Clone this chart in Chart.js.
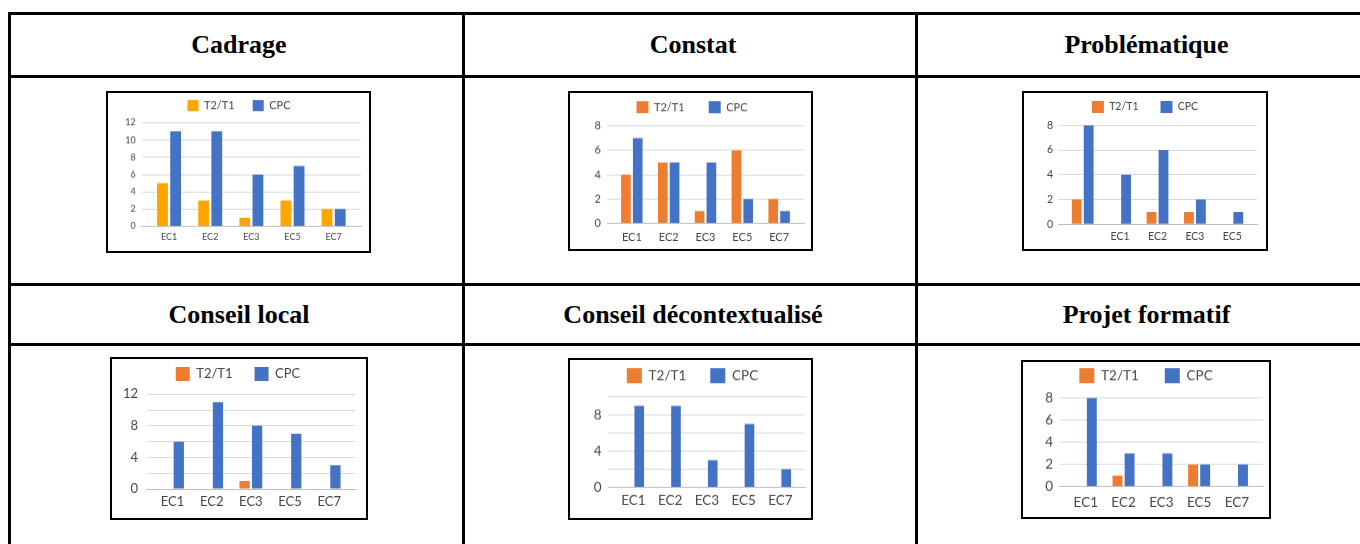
<!DOCTYPE html>
<html>
<head>
<meta charset="utf-8">
<script src="https://cdn.jsdelivr.net/npm/chart.js@4.4.1/dist/chart.umd.min.js"></script>
<style>
    body { margin: 0; background: #fff; width: 1360px; height: 544px; position: relative; overflow: hidden; }
    .hl { position: absolute; left: 8px; right: 0; height: 3px; background: #000; }
    .vl { position: absolute; top: 12px; bottom: 0; width: 3px; background: #000; }
    .head { position: absolute; width: 440px; text-align: center; font: bold 26px "Liberation Serif"; line-height: 30px; color: #000; }
    .frame { position: absolute; border: 2px solid #000; box-sizing: border-box; }
    .wrap { position: absolute; }
</style>
</head>
<body>
<div class="hl" style="top:12px"></div>
<div class="hl" style="top:75px"></div>
<div class="hl" style="top:283px"></div>
<div class="hl" style="top:343px"></div>
<div class="vl" style="left:8px"></div>
<div class="vl" style="left:462px"></div>
<div class="vl" style="left:915px"></div>

<script>
// données
const categories = ['EC1', 'EC2', 'EC3', 'EC5', 'EC7'];
const categoriesProblematique = ['', 'EC1', 'EC2', 'EC3', 'EC5'];
const series = ['T2/T1', 'CPC'];
const titres = ['Cadrage', 'Constat', 'Problématique', 'Conseil local', 'Conseil décontextualisé', 'Projet formatif'];

const cadrageT = [5, 3, 1, 3, 2],   cadrageC = [11, 11, 6, 7, 2];
const constatT = [4, 5, 1, 6, 2],   constatC = [7, 5, 5, 2, 1];
const problT   = [2, 0, 1, 1, 0],   problC   = [8, 4, 6, 2, 1];
const localT   = [0, 0, 1, 0, 0],   localC   = [6, 11, 8, 7, 3];
const decontT  = [0, 0, 0, 0, 0],   decontC  = [9, 9, 3, 7, 2];
const projetT  = [0, 1, 0, 2, 0],   projetC  = [8, 3, 3, 2, 2];

const yMax = [12, 8, 8, 12, 10, 8];
const yStep = [2, 2, 2, 2, 2, 2];
const yLabelStep = [2, 2, 2, 4, 4, 2];

const labelsParGraphe = [categories, categories, categoriesProblematique, categories, categories, categories];
const valeursT = [cadrageT, constatT, problT, localT, decontT, projetT];
const valeursC = [cadrageC, constatC, problC, localC, decontC, projetC];

// mise en page (px dans la page)
const orange = ['#FFA500', '#ED7D31', '#ED7D31', '#ED7D31', '#ED7D31', '#ED7D31'];
const bleu = '#4472C4';
const texte = '#474747';
const headX = [239, 693, 1146.5];
const headY = [30, 300];
// area = étendue de l'axe des x, ext = marge (en catégories) de chaque côté
const specs = [
    {frame: [106, 91, 371, 253], area: [141.7, 122.7, 361, 225.7], ext: 0.165, legX: 239, legY: 105.7, axisF: 9, legF: 11, box: 11, pad: 18, xPad: 5.6, yPad: 6},
    {frame: [568, 91, 813, 251], area: [607, 126, 804, 222.7], ext: 0.175, legX: 692, legY: 107.3, axisF: 11, legF: 11, box: 12, pad: 24, xPad: 7.4, yPad: 6},
    {frame: [1022, 91, 1268, 251], area: [1058, 125, 1257, 224], ext: 0.16, legX: 1145, legY: 106.7, axisF: 10.5, legF: 10.5, box: 12, pad: 22, xPad: 6.4, yPad: 5},
    {frame: [110, 357, 368, 520], area: [146.7, 394.3, 355, 489], ext: 0.16, legX: 238, legY: 374, axisF: 13, legF: 13, box: 14, pad: 22, xPad: 4.9, yPad: 8.7},
    {frame: [568, 358, 813, 520], area: [608, 396.7, 805.7, 486.7], ext: 0.19, legX: 692.5, legY: 375.7, axisF: 13.5, legF: 13.5, box: 15, pad: 24, xPad: 5.2, yPad: 6.3},
    {frame: [1021, 360, 1271, 519], area: [1059.7, 397.7, 1263, 486], ext: 0.19, legX: 1146, legY: 375.7, axisF: 13.5, legF: 13.5, box: 15, pad: 26, xPad: 7.6, yPad: 6.7}
];

// espace sous la légende
const legendGap = {
    id: 'legendGap',
    beforeInit(chart, args, opts) {
        const fit = chart.legend.fit;
        chart.legend.fit = function () {
            fit.call(this);
            this.height += opts.gap;
        };
    }
};

titres.forEach(function (t, i) {
    let d = document.createElement('div');
    d.className = 'head';
    d.style.left = (headX[i % 3] - 220) + 'px';
    d.style.top = headY[Math.floor(i / 3)] + 'px';
    d.textContent = t;
    document.body.appendChild(d);
});

specs.forEach(function (s, i) {
    let f = document.createElement('div');
    f.className = 'frame';
    f.style.left = s.frame[0] + 'px';
    f.style.top = s.frame[1] + 'px';
    f.style.width = (s.frame[2] - s.frame[0]) + 'px';
    f.style.height = (s.frame[3] - s.frame[1]) + 'px';
    document.body.appendChild(f);

    let innerR = s.frame[2] - 2, innerB = s.frame[3] - 2;
    let lStart = 2 * s.legX - s.area[2];
    let itemH = Math.max(s.legF, s.box);
    let cx = Math.min(s.frame[0] + 2, lStart) - 14;
    let cy = s.legY - s.pad - itemH / 2;
    let padL = lStart - cx, padR = innerR - s.area[2];
    let yW = s.area[0] - lStart;
    let xH = innerB - s.area[3];
    let gap = s.area[1] - s.legY - itemH / 2 - 10;

    let w = document.createElement('div');
    w.className = 'wrap';
    w.style.left = cx + 'px';
    w.style.top = cy + 'px';
    w.style.width = (innerR - cx) + 'px';
    w.style.height = (innerB - cy) + 'px';
    let c = document.createElement('canvas');
    w.appendChild(c);
    document.body.appendChild(w);

    new Chart(c, {
        type: 'bar',
        data: {
            labels: labelsParGraphe[i],
            datasets: [{
                label: series[0],
                data: valeursT[i],
                backgroundColor: orange[i]
            }, {
                label: series[1],
                data: valeursC[i],
                backgroundColor: bleu
            }]
        },
        plugins: [legendGap],
        options: {
            responsive: true,
            maintainAspectRatio: false,
            animation: false,
            categoryPercentage: 0.64,
            barPercentage: 0.82,
            layout: {padding: {left: padL, right: padR, top: 0, bottom: 0}},
            plugins: {
                legendGap: {gap: gap},
                tooltip: {enabled: false},
                legend: {
                    position: 'top',
                    labels: {
                        boxWidth: s.box, boxHeight: s.box, padding: s.pad,
                        color: texte,
                        font: {family: 'Lato', size: s.legF}
                    }
                }
            },
            scales: {
                x: {
                    grid: {display: false, drawTicks: false},
                    border: {display: true, color: '#BFBFBF', width: 1},
                    ticks: {color: texte, padding: s.xPad, font: {family: 'Lato', size: s.axisF}, maxRotation: 0, autoSkip: false},
                    // l'axe déborde un peu des catégories, comme dans Excel
                    afterBuildTicks: function (sc) {
                        sc._startValue -= s.ext;
                        sc._valueRange += 2 * s.ext;
                    },
                    afterFit: function (sc) { sc.height = xH; }
                },
                y: {
                    min: 0, max: yMax[i],
                    grid: {color: '#D9D9D9', drawTicks: false},
                    border: {display: false},
                    ticks: {
                        stepSize: yStep[i], autoSkip: false, color: texte, padding: s.yPad,
                        font: {family: 'Lato', size: s.axisF},
                        callback: function (v) { return v % yLabelStep[i] === 0 ? v : ''; }
                    },
                    afterFit: function (sc) { sc.width = yW; }
                }
            }
        }
    });
});
</script>
</body>
</html>
